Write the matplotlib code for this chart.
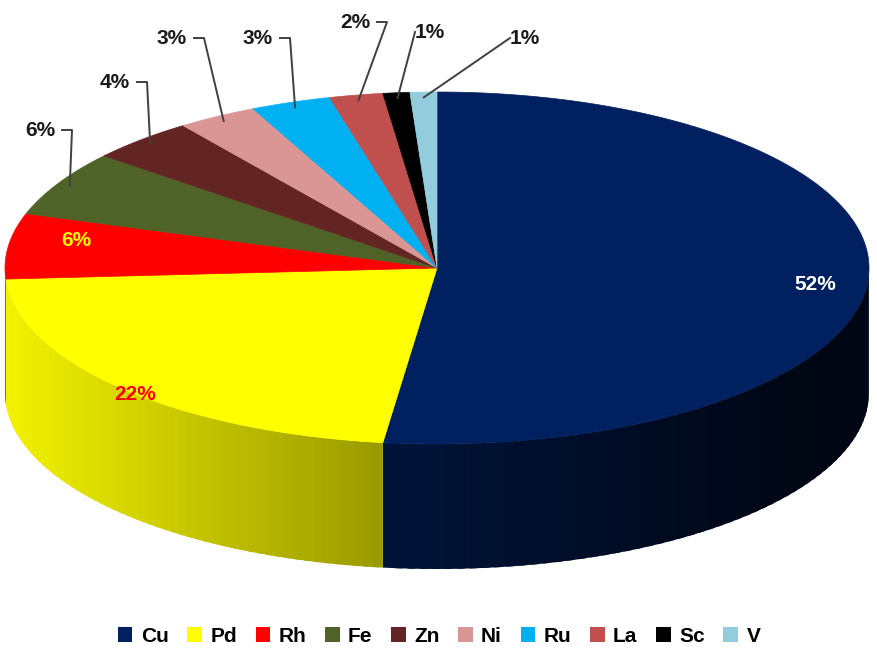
import numpy as np
import matplotlib.pyplot as plt
from matplotlib.patches import Polygon, Patch
from matplotlib.colors import to_rgb

# данные
metals = ['Cu', 'Pd', 'Rh', 'Fe', 'Zn', 'Ni', 'Ru', 'La', 'Sc', 'V']
shares = [52, 22, 6, 6, 4, 3, 3, 2, 1, 1]
labels = ['52%', '22%', '6%', '6%', '4%', '3%', '3%', '2%', '1%', '1%']
colors = ['#002060', '#FFFF00', '#FF0000', '#4F6228', '#632523',
          '#D99694', '#00B0F0', '#C0504D', '#000000', '#93CDDD']

# геометрия "3D" круга в пикселях
cx, cy, rx, ry, depth = 437, 268, 432, 176, 125

fig = plt.figure(figsize=(8.78, 6.56), dpi=100)
ax = fig.add_axes([0, 0, 1, 1])
ax.set_xlim(0, 878)
ax.set_ylim(656, 0)
ax.axis('off')

def pt(a, dy=0.0):
    return cx + rx * np.cos(a), cy - ry * np.sin(a) + dy

# углы секторов: старт сверху, по часовой стрелке
total = sum(shares)
bounds = np.deg2rad(90 - 360 * np.cumsum([0] + shares) / total)

# боковые стенки (только передняя половина), с градиентом
for i, c in enumerate(colors):
    a1, a2 = bounds[i + 1], bounds[i]
    lo, hi = max(a1, -np.pi), min(a2, 0)
    if lo >= hi:
        lo, hi = max(a1 + 2 * np.pi, -np.pi), min(a2 + 2 * np.pi, 0)
    if hi - lo < 0.02:
        continue
    edges = np.linspace(lo, hi, 60)
    step = edges[1] - edges[0]
    base = np.array(to_rgb(c))
    for e1, e2 in zip(edges[:-1], edges[1:]):
        k = np.clip(0.55 - 0.4 * np.cos((e1 + e2) / 2), 0.2, 1.0)
        e2x = min(e2 + step * 0.6, hi)
        x1, y1 = pt(e1)
        x2, y2 = pt(e2x)
        poly = Polygon([(x1, y1), (x2, y2), (x2, y2 + depth), (x1, y1 + depth)],
                       closed=True, facecolor=base * k, edgecolor='none')
        ax.add_patch(poly)

# верхние сектора
for i, c in enumerate(colors):
    a = np.linspace(bounds[i], bounds[i + 1], 200)
    xs, ys = pt(a)
    verts = [(cx, cy)] + list(zip(xs, ys))
    ax.add_patch(Polygon(verts, closed=True, facecolor=c, edgecolor=c, lw=0.5))

# подписи внутри
font = dict(fontsize=15, fontweight='bold', family='Liberation Sans')
ax.text(815, 285, labels[0], color='white', ha='center', va='center', **font)
ax.text(135, 395, labels[1], color='#FF0000', ha='center', va='center', **font)
ax.text(76, 240, labels[2], color='#FFFF00', ha='center', va='center', **font)

# подписи снаружи с выносками
outside = {3: (40, 130), 4: (115, 82), 5: (172, 38), 6: (258, 38),
           7: (355, 22), 8: (430, 32), 9: (525, 38)}
for i, (tx, ty) in outside.items():
    am = (bounds[i] + bounds[i + 1]) / 2
    px, py = pt(am)
    px, py = cx + (px - cx) * 0.97, cy + (py - cy) * 0.97
    if i < 8:
        xs_line = [tx + 22, tx + 32, px]
    else:
        xs_line = [tx - 15, tx - 15, px]
    ax.plot(xs_line, [ty, ty, py], color='#404040', lw=1.4)
    ax.text(tx, ty, labels[i], color='#1a1a1a', ha='center', va='center', **font)

handles = [Patch(facecolor=c, edgecolor='none') for c in colors]
fig.legend(handles, metals, loc='center', bbox_to_anchor=(0.5, 1 - 636 / 656),
           ncol=10, frameon=False, handlelength=0.7, handleheight=0.7,
           handletextpad=0.4, columnspacing=0.9,
           prop=dict(size=15, weight='bold', family='Liberation Sans'))

fig.savefig('out.png', dpi=100)
